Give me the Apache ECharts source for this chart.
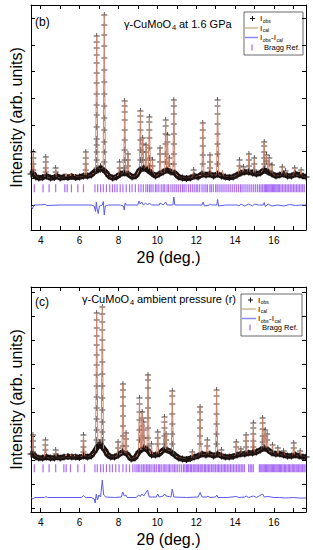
<!DOCTYPE html>
<html>
<head>
<meta charset="utf-8">
<script src="https://cdn.jsdelivr.net/npm/echarts@6/dist/echarts.min.js"></script>
<style>
html,body{margin:0;padding:0;background:#fff;}
#chart{width:313px;height:550px;}
</style>
</head>
<body>
<div id="chart"></div>
<script>
// ---------- axis ranges / ticks ----------
const X_MIN = 3.5, X_MAX = 17.65;
const xTicks = [4,5,6,7,8,9,10,11,12,13,14,15,16,17];
const xLabels = [4,6,8,10,12,14,16];
const Y_MAX = 225;
const yTicksB = [25,51.67,78.33,105,131.67,158.33,185,211.67];
const yTicksC = [4,28,52,76,100,124,148,172,196,220];

// ---------- panel (b) : 1.6 GPa ----------
const bgB = [[3.5,56],[3.6,57],[3.75,53],[3.9,52],[4.1,52.5],[4.3,54],[4.5,52],[4.7,52.5],[4.85,54],[5.0,52],[5.2,53],[5.4,52.5],[5.6,53.5],[5.8,52.5],[6.0,53],[6.2,54],[6.4,54],[6.6,55],[6.75,58],[6.95,60],[7.1,62],[7.35,58],[7.5,54],[7.7,52],[7.9,53],[8.1,56],[8.3,57],[8.5,56],[8.7,53],[8.9,54],[9.1,60],[9.3,62],[9.5,60],[9.7,57],[9.9,54],[10.1,56],[10.3,58],[10.5,60],[10.7,58],[10.9,57],[11.1,53],[11.3,52],[11.5,51.5],[11.7,52],[11.9,54],[12.1,53],[12.3,56],[12.5,55],[12.7,56],[12.9,54],[13.1,56],[13.3,54],[13.5,53],[13.7,52.5],[13.9,53],[14.1,55],[14.3,57],[14.5,58],[14.7,58],[14.9,57],[15.1,56],[15.3,57],[15.5,60],[15.7,58],[15.9,56],[16.1,54],[16.3,55],[16.5,56],[16.7,54],[16.9,54],[17.1,56],[17.3,55],[17.5,54],[17.65,53]];

const calcB = [[3.5,56],[3.57,57],[3.62,78],[3.67,56],[3.8,53],[4.0,52],[4.21,53],[4.26,73],[4.31,53],[4.5,52],[4.72,53],[4.77,62],[4.82,53],[5.0,52],[5.26,53],[5.3,57],[5.34,53],[5.5,53],[5.55,57],[5.6,53],[5.71,53],[5.75,56],[5.79,53],[6.0,53],[6.27,54],[6.32,78],[6.37,54],[6.6,55],[6.82,58],[6.88,194],[6.94,62],[7.08,61],[7.21,62],[7.27,215],[7.33,58],[7.5,54],[7.7,52],[8.01,55],[8.06,68],[8.11,56],[8.27,57],[8.32,129],[8.38,57],[8.45,57],[8.49,76],[8.54,56],[8.7,53],[8.9,54],[9.08,60],[9.13,119],[9.19,62],[9.25,92],[9.31,62],[9.38,62],[9.42,85],[9.47,62],[9.54,61],[9.59,113],[9.65,59],[9.72,58],[9.75,70],[9.79,57],[9.95,54],[10.1,56],[10.14,82],[10.19,57],[10.38,58],[10.43,110],[10.48,62],[10.52,95],[10.57,62],[10.62,72],[10.67,59],[10.8,58],[10.85,130],[10.91,57],[11.1,53],[11.5,51.5],[11.82,53],[11.87,60],[11.92,53],[12.29,55],[12.34,107],[12.4,55],[12.66,55],[12.71,75],[12.76,55],[13.05,55],[13.1,130],[13.16,55],[13.3,54],[13.35,60],[13.4,54],[13.7,52.5],[14.0,54],[14.18,56],[14.23,70],[14.28,57],[14.39,58],[14.43,63],[14.47,58],[14.66,58],[14.71,76],[14.76,58],[14.94,57],[14.99,72],[15.04,56],[15.3,57],[15.44,60],[15.5,88],[15.56,62],[15.62,75],[15.68,60],[15.76,72],[15.81,58],[15.87,57],[15.9,65],[15.94,56],[16.1,54],[16.38,55],[16.43,63],[16.48,55],[16.56,55],[16.6,59],[16.64,55],[16.8,54],[17.02,55],[17.07,62],[17.12,55],[17.35,55],[17.4,60],[17.45,54],[17.65,53]];

const obsB = [[3.62,[78,72,66,60]],[4.26,[73,68,62,58]],[4.77,[62,58]],[6.32,[78,72,66,60]],
[6.88,[194,188,182,175,167,157,147,136,125,115,103,91,85,78,70,62]],[7.08,[64,60]],
[7.27,[215,205,195,184,172,160,148,136,124,112,100,88,78,68]],
[8.06,[68,62]],[8.32,[129,124,118,110,100,90,80,70,62]],[8.49,[76,70,64]],
[9.13,[119,114,108,100,90,80,70]],[9.25,[92,86,78,70]],[9.42,[85,78,70]],[9.59,[113,108,100,92,82,72,64]],[9.75,[70,64]],
[10.14,[82,76,68]],[10.43,[110,104,96,86,76,68]],[10.52,[95,88]],[10.62,[72,66]],[10.85,[130,124,116,106,96,86,76,66]],
[11.87,[60]],[12.34,[107,100,92,84,75,66]],[12.71,[75,68,62]],[13.1,[130,124,116,106,96,86,76,66]],
[14.23,[70,64]],[14.43,[63]],[14.71,[76,70,64]],[14.99,[72,66,60]],[15.5,[88,84,78,72,66]],[15.62,[75,69]],[15.76,[72,66]],[15.9,[65]],
[16.43,[63]],[16.6,[59]],[17.07,[62]],[17.4,[60]]];

const diffB = [[3.5,24],[3.57,21],[3.65,25],[3.8,25],[4.26,25.5],[4.3,24.5],[5.0,25],[6.3,25],[6.6,25],[6.75,24],[6.82,18.5],[6.86,28],[6.9,21],[6.96,16.5],[7.02,24],[7.17,25],[7.22,28.5],[7.27,15],[7.32,24],[7.5,25],[8.1,25],[8.25,24],[8.3,20],[8.34,27],[8.4,25],[8.8,25],[9.0,25],[9.06,29],[9.12,26],[9.2,28],[9.28,25],[9.4,27],[9.5,25],[9.6,27],[9.7,25],[10.1,25],[10.14,27],[10.3,25],[10.43,28],[10.5,25],[10.8,25],[10.85,33],[10.9,25],[11.5,25],[12.3,25],[12.36,28],[12.42,24],[12.7,25],[12.74,26],[12.8,25],[13.06,25],[13.1,30.5],[13.15,24],[13.5,25],[14.1,25],[14.2,24],[14.3,26],[14.5,24],[14.7,26],[14.9,24],[15.0,26],[15.2,25],[15.45,25],[15.5,27.5],[15.56,23.5],[15.7,26],[15.9,24],[16.2,25],[16.5,24],[16.8,25.5],[17.1,24.5],[17.4,25],[17.65,25]];

const braggB = [3.67,4.12,4.43,4.77,5.24,5.36,5.58,5.91,6.2,6.79,6.93,7.08,7.22,7.38,7.55,7.69,7.81,7.93,8.09,8.23,8.4,8.57,8.7,8.87,9.04,9.16,9.28,9.41,9.5,9.6,9.68,9.78,9.9,9.98,10.08,10.2,10.3,10.38,10.5,10.58,10.7,10.8,10.9,11.0,11.1,11.2,11.3,11.38,11.48,11.6,11.7,11.8,11.9,12.0,12.08,12.18,12.3,12.4,12.5,12.58,12.7,12.78,12.88,13.0,13.08,13.18,13.28,13.38,13.48,13.58,13.68,13.78,13.88,13.98,14.08,14.18,14.28,14.36,14.46,14.56,14.66,14.76,14.86,14.96,15.06,15.16,15.26,15.34,15.42,15.5,15.56,15.62,15.68,15.74,15.8,15.86,15.92,15.98,16.04,16.1,16.16,16.22,16.28,16.36,16.44,16.52,16.6,16.68,16.76,16.84,16.92,17.0,17.08,17.16,17.24,17.32,17.4,17.48,17.56];

// ---------- panel (c) : ambient pressure ----------
const bgC = [[3.5,58],[3.6,58],[3.75,55],[3.9,54],[4.1,54],[4.3,55],[4.5,54],[4.7,54],[4.85,55],[5.0,54],[5.2,55],[5.4,55.5],[5.6,55],[5.8,55],[6.0,54.5],[6.2,56],[6.4,55],[6.6,56],[6.75,60],[6.95,66],[7.05,68],[7.3,62],[7.45,57],[7.6,55],[7.8,55],[8.0,57],[8.2,60],[8.45,58],[8.65,53],[8.85,54],[9.05,60],[9.3,64],[9.5,62],[9.7,57],[9.9,57],[10.1,58],[10.3,62],[10.5,62],[10.7,60],[10.9,57],[11.1,54],[11.3,53],[11.5,52.5],[11.7,53.5],[11.9,55],[12.1,56],[12.3,58],[12.5,57],[12.7,58],[12.9,56],[13.1,58],[13.3,56],[13.5,55],[13.7,55],[13.9,55.5],[14.1,57],[14.3,58],[14.5,58],[14.7,59],[14.9,59],[15.1,60],[15.3,62],[15.5,64],[15.7,62],[15.9,59],[16.1,58],[16.3,58],[16.5,57],[16.7,56],[16.9,56],[17.1,57],[17.3,56],[17.5,55],[17.65,55]];

const calcC = [[3.5,58],[3.55,58],[3.6,77],[3.65,58],[3.8,55],[4.0,54],[4.19,54.5],[4.24,72],[4.29,54.5],[4.5,54],[4.72,54.5],[4.77,62],[4.82,54.5],[5.0,54],[5.26,55],[5.3,58],[5.34,55],[5.51,55],[5.55,58],[5.59,55],[5.71,55],[5.75,57],[5.79,55],[6.0,54.5],[6.15,56],[6.2,77],[6.25,56],[6.5,55.5],[6.7,58],[6.82,62],[6.88,199],[6.94,68],[7.05,69],[7.11,68],[7.17,206],[7.23,64],[7.45,57],[7.7,55],[7.93,56],[7.98,70],[8.03,57],[8.18,59],[8.23,128],[8.29,60],[8.35,59],[8.39,79],[8.44,58],[8.65,53],[8.9,55],[9.03,59],[9.08,114],[9.14,62],[9.18,63],[9.22,100],[9.26,64],[9.3,90],[9.35,64],[9.47,63],[9.52,137],[9.58,61],[9.66,58],[9.7,68],[9.74,57],[9.9,57],[9.97,57.5],[10.02,80],[10.07,58],[10.32,62],[10.37,95],[10.42,63],[10.45,78],[10.5,62],[10.72,61],[10.77,121],[10.83,59],[11.0,55],[11.5,52.5],[11.75,54],[11.8,60],[11.85,54],[12.15,56.5],[12.2,105],[12.26,57.5],[12.52,57.5],[12.57,72],[12.62,57.5],[13.0,57],[13.05,122],[13.11,57.5],[13.26,56],[13.3,62],[13.34,56],[13.7,55],[14.01,56.5],[14.06,70],[14.11,57],[14.26,58],[14.3,63],[14.34,58],[14.52,58],[14.57,77],[14.62,58.5],[14.89,59],[14.94,89],[14.99,59],[15.2,61],[15.37,63],[15.42,94],[15.48,64],[15.55,82],[15.6,64],[15.65,78],[15.7,62],[15.88,59],[15.93,67],[15.98,59],[16.16,58],[16.2,64],[16.24,58],[16.46,57],[16.5,61],[16.54,57],[16.9,56],[16.97,56.5],[17.02,69],[17.07,57],[17.3,56],[17.35,61],[17.4,56],[17.65,55]];

const obsC = [[3.6,[77,71,65,60]],[4.24,[72,67,62]],[4.77,[62,58]],[6.2,[77,71,65,60]],
[6.88,[199,192,184,176,167,157,147,137,126,115,104,93,82,72]],[7.05,[70,66]],
[7.17,[205,198,190,182,172,162,150,138,126,114,102,90,80,72]],
[7.98,[70,64]],[8.23,[128,122,115,106,96,86,76,66]],[8.39,[79,73,66]],
[9.08,[114,108,100,92,82,72]],[9.22,[100,94,86,76]],[9.3,[90,82,74]],[9.52,[137,132,124,114,104,94,84,74,66]],[9.7,[68]],
[10.02,[80,74,68]],[10.37,[95,90,84,76,68]],[10.45,[78,72]],[10.77,[121,116,108,98,88,78,68]],
[11.8,[60]],[12.2,[105,100,92,84,76,68]],[12.57,[72,66]],[13.05,[122,116,108,98,88,78,68]],[13.3,[62]],
[14.06,[70,65]],[14.3,[63]],[14.57,[77,71,65]],[14.94,[89,84,78,71,65]],[15.42,[94,89,83,76,70]],[15.55,[82,76]],[15.65,[78,72]],[15.93,[67]],
[16.2,[64]],[16.5,[61]],[17.02,[69,64]],[17.35,[61]]];

const diffC = [[3.5,14.5],[3.6,13],[3.7,14.5],[4.2,14.5],[4.26,15.5],[4.35,14.5],[5.0,14.5],[6.1,14.5],[6.2,16.5],[6.3,14.5],[6.6,14.5],[6.75,13],[6.8,9],[6.86,18],[6.92,12],[7.0,17],[7.08,15],[7.17,32],[7.24,17],[7.35,15],[7.8,14.5],[8.15,15],[8.22,20],[8.3,16],[8.38,17],[8.45,14.5],[8.9,14.5],[9.05,17],[9.12,15.5],[9.2,18],[9.3,16],[9.5,22],[9.58,15],[9.75,15],[9.95,15],[10.02,18],[10.1,15],[10.3,16],[10.38,18],[10.45,16],[10.7,15],[10.77,23],[10.85,15],[11.5,14.5],[12.1,15],[12.2,19.5],[12.3,15],[12.55,15],[12.6,16],[12.7,14.5],[13.0,15],[13.06,17],[13.12,14.5],[13.6,14.5],[14.06,15.5],[14.2,14.5],[14.5,15],[14.57,16],[14.7,14.5],[14.94,16],[15.1,14.5],[15.42,18],[15.5,15],[15.7,15.5],[16.0,14.5],[16.3,14.5],[16.6,14],[17.0,14.5],[17.3,14],[17.65,14]];

const braggC = [3.67,4.12,4.43,4.77,5.19,5.31,5.53,5.91,6.25,6.79,6.91,7.08,7.22,7.38,7.55,7.69,7.86,8.03,8.23,8.4,8.57,8.74,8.85,8.95,9.02,9.1,9.2,9.28,9.36,9.45,9.52,9.6,9.68,9.78,9.86,9.95,10.05,10.12,10.2,10.3,10.38,10.45,10.55,10.62,10.7,10.8,10.88,10.96,11.05,11.15,11.25,11.35,11.42,11.5,11.56,11.62,11.7,11.76,11.84,11.9,11.98,12.05,12.12,12.2,12.26,12.34,12.42,12.48,12.56,12.63,12.7,12.78,12.86,12.92,13.0,13.08,13.15,13.22,13.3,13.38,13.45,13.52,13.6,13.68,13.76,13.84,13.92,14.0,14.08,14.16,14.24,14.32,14.4,14.48,14.7,14.78,14.86,14.94,15.25,15.32,15.38,15.44,15.5,15.56,15.62,15.68,15.74,15.8,15.86,15.92,15.98,16.04,16.1,16.16,16.22,16.28,16.34,16.4,16.47,16.54,16.6,16.67,16.74,16.8,16.87,16.94,17.0,17.07,17.14,17.2,17.27,17.34,17.4,17.47,17.54,17.6];
const BRAGG_Y_B = 41.7, BRAGG_Y_C = 43.7;

// ---------- build ----------
const FONT = '"Liberation Sans", Arial, sans-serif';
const PLUS = 'path://M0,4.3H10V5.7H0Z M4.3,0H5.7V10H4.3Z';
const C_OBS = '#1d1212', C_CAL = '#c98670', C_DIF = '#5a5af0', C_BRG = '#9448f0';

function flatObs(list){ const out=[]; list.forEach(p=>p[1].forEach(v=>out.push([p[0],v]))); return out; }

function xAx(grid, pos, labels){
  return {type:'value', gridIndex:grid, position:pos, min:X_MIN, max:X_MAX,
    name: labels ? '2θ (deg.)' : '', nameLocation:'middle', nameGap:19,
    nameTextStyle:{fontFamily:FONT, fontSize:16, color:'#000'},
    axisLine:{show:true, onZero:false, lineStyle:{color:'#000', width:1}},
    axisTick:{show:true, inside:true, length:4, customValues:xTicks, lineStyle:{color:'#000', width:1}},
    axisLabel:{show:labels, customValues:xLabels, fontFamily:FONT, fontSize:10, color:'#000', margin:5},
    splitLine:{show:false}};
}
function yAx(grid, pos, ticks, named){
  return {type:'value', gridIndex:grid, position:pos, min:0, max:Y_MAX,
    name: named ? 'Intensity (arb. units)' : '', nameLocation:'middle', nameGap:7,
    nameTextStyle:{fontFamily:FONT, fontSize:16, color:'#000'},
    axisLine:{show:true, onZero:false, lineStyle:{color:'#000', width:1}},
    axisTick:{show:true, inside:true, length:4, customValues:ticks, lineStyle:{color:'#000', width:1}},
    axisLabel:{show:false}, splitLine:{show:false}};
}
function panelSeries(xi, yi, bg, calc, obs, diff, bragg, by){
  return [
    {type:'scatter', xAxisIndex:xi, yAxisIndex:yi, symbol:'rect', symbolSize:[1.2,8], silent:true,
      itemStyle:{color:C_BRG}, data:bragg.map(x=>[x,by])},
    {type:'line', xAxisIndex:xi, yAxisIndex:yi, showSymbol:false, symbol:'none', silent:true,
      lineStyle:{color:C_DIF, width:1}, data:diff},
    {type:'line', xAxisIndex:xi, yAxisIndex:yi, symbol:PLUS, symbolSize:7, showSymbol:true, silent:true,
      itemStyle:{color:C_OBS}, lineStyle:{color:C_OBS, width:5.5}, data:bg},
    {type:'line', xAxisIndex:xi, yAxisIndex:yi, showSymbol:false, symbol:'none', silent:true,
      lineStyle:{color:C_CAL, width:1}, data:calc},
    {type:'scatter', xAxisIndex:xi, yAxisIndex:yi, symbol:PLUS, symbolSize:6, silent:true,
      itemStyle:{color:C_OBS}, data:flatObs(obs)}
  ];
}
function txt(x, y, s, size){
  return {type:'text', x:x, y:y, style:{text:s, font:size+'px '+FONT, fill:'#000', textVerticalAlign:'middle', verticalAlign:'middle'}};
}
function legend(x0,y0,x1,y1,rows,tx,btx){
  const M = 8, S = 5, d = 2.3;
  return [
    {type:'rect', shape:{x:x0,y:y0,width:x1-x0,height:y1-y0}, style:{fill:'#fff', stroke:'#444', lineWidth:0.8}},
    {type:'line', shape:{x1:tx-10,y1:rows[0],x2:tx-5,y2:rows[0]}, style:{stroke:C_OBS, lineWidth:1}},
    {type:'line', shape:{x1:tx-7.5,y1:rows[0]-2.5,x2:tx-7.5,y2:rows[0]+2.5}, style:{stroke:C_OBS, lineWidth:1}},
    txt(tx, rows[0], 'I', M), txt(tx+2.8, rows[0]+d, 'obs', S),
    {type:'line', shape:{x1:x0+1,y1:rows[1],x2:tx-2,y2:rows[1]}, style:{stroke:'#c9a27a', lineWidth:1.2}},
    txt(tx, rows[1], 'I', M), txt(tx+2.8, rows[1]+d, 'cal', S),
    {type:'line', shape:{x1:x0+1,y1:rows[2],x2:tx-2,y2:rows[2]}, style:{stroke:'#8a8af5', lineWidth:1.5}},
    txt(tx, rows[2], 'I', M), txt(tx+2.8, rows[2]+d, 'obs', S), txt(tx+11, rows[2], '-I', M), txt(tx+16.5, rows[2]+d, 'cal', S),
    {type:'line', shape:{x1:tx-8,y1:rows[3]-3,x2:tx-8,y2:rows[3]+3}, style:{stroke:C_BRG, lineWidth:1}},
    txt(btx, rows[3], 'Bragg Ref.', 7.5)
  ];
}
function title(x, y, a, b){
  const w = 48;   // width of "γ-CuMoO" at 11px
  return [txt(x, y, a, 11), txt(x+w, y+3, '4', 7.5), txt(x+w+7, y, b, 11)];
}

const option = {
  animation:false,
  backgroundColor:'#fff',
  grid:[{left:27, right:7, top:5, height:225}, {left:27, right:7, top:287, height:225}],
  xAxis:[xAx(0,'bottom',true), xAx(0,'top',false), xAx(1,'bottom',true), xAx(1,'top',false)],
  yAxis:[yAx(0,'left',yTicksB,true), yAx(0,'right',yTicksB,false), yAx(1,'left',yTicksC,true), yAx(1,'right',yTicksC,false)],
  series:[].concat(
    panelSeries(0,0,bgB,calcB,obsB,diffB,braggB,BRAGG_Y_B),
    panelSeries(2,2,bgC,calcC,obsC,diffC,braggC,BRAGG_Y_C)
  ),
  graphic:[].concat(
    [txt(35, 22, '(b)', 12), txt(35, 302, '(c)', 12)],
    title(124, 24, 'γ-CuMoO', 'at 1.6 GPa'),
    title(82, 299, 'γ-CuMoO', 'ambient pressure (r)'),
    legend(244,12,303,55,[18.5,28,37.5,47.5],260,264),
    legend(241,294,302,336,[300,309,318.5,327.5],258,262)
  )
};
const chart = echarts.init(document.getElementById('chart'), null, {renderer:'svg', width:313, height:550});
chart.setOption(option);
</script>
</body>
</html>
